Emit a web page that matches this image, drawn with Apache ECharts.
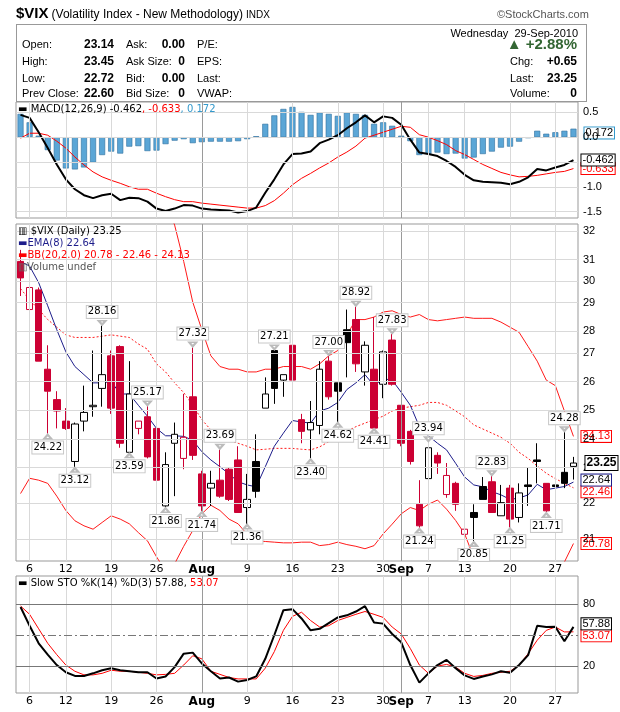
<!DOCTYPE html>
<html><head><meta charset="utf-8">
<script src="https://cdn.jsdelivr.net/npm/echarts@6/dist/echarts.min.js"></script>
<style>
body{margin:0;background:#fff;font-family:"Liberation Sans",Arial,sans-serif;}
#wrap{position:relative;width:620px;height:712px;}
#chart{position:absolute;left:0;top:0;width:620px;height:712px;}
.t{position:absolute;white-space:nowrap;font-size:11px;line-height:14px;color:#000;}
.b{font-weight:bold;font-size:12px;}
.r{text-align:right;}
</style></head><body>
<div id="wrap">
<div id="chart"></div>
<div class="t" style="left:16px;top:4px;line-height:18px;"><span style="font-weight:bold;font-size:15px;">$VIX</span> <span style="font-size:12px;">(Volatility Index - New Methodology)</span> <span style="font-size:10px;">INDX</span></div>
<div class="t" style="left:497px;top:7px;color:#555;font-size:11px;">&#169;StockCharts.com</div>
<div style="position:absolute;left:16px;top:24px;width:569px;height:76px;border:1px solid #999;"></div>
<div class="t r" style="right:42px;top:26px;">Wednesday&nbsp; 29-Sep-2010</div>
<div class="t" style="left:22px;top:37px;">Open:</div><div class="t b r" style="right:506px;top:37px;">23.14</div>
<div class="t" style="left:22px;top:54px;">High:</div><div class="t b r" style="right:506px;top:54px;">23.45</div>
<div class="t" style="left:22px;top:71px;">Low:</div><div class="t b r" style="right:506px;top:71px;">22.72</div>
<div class="t" style="left:22px;top:86px;">Prev Close:</div><div class="t b r" style="right:506px;top:86px;">22.60</div>
<div class="t" style="left:126px;top:37px;">Ask:</div><div class="t b r" style="right:435px;top:37px;">0.00</div>
<div class="t" style="left:126px;top:54px;">Ask Size:</div><div class="t b r" style="right:435px;top:54px;">0</div>
<div class="t" style="left:126px;top:71px;">Bid:</div><div class="t b r" style="right:435px;top:71px;">0.00</div>
<div class="t" style="left:126px;top:86px;">Bid Size:</div><div class="t b r" style="right:435px;top:86px;">0</div>
<div class="t" style="left:197px;top:37px;">P/E:</div>
<div class="t" style="left:197px;top:54px;">EPS:</div>
<div class="t" style="left:197px;top:71px;">Last:</div>
<div class="t" style="left:197px;top:86px;">VWAP:</div>
<div class="t r" style="right:43px;top:36px;color:#336633;font-weight:bold;font-size:15px;line-height:16px;">&#9650; +2.88%</div>
<div class="t" style="left:510px;top:54px;">Chg:</div><div class="t b r" style="right:43px;top:54px;">+0.65</div>
<div class="t" style="left:510px;top:71px;">Last:</div><div class="t b r" style="right:43px;top:71px;">23.25</div>
<div class="t" style="left:510px;top:86px;">Volume:</div><div class="t b r" style="right:43px;top:86px;">0</div>
</div>
<script>
const dates=['07-02','07-06','07-07','07-08','07-09','07-12','07-13','07-14','07-15','07-16','07-19','07-20','07-21','07-22','07-23','07-26','07-27','07-28','07-29','07-30',
'08-02','08-03','08-04','08-05','08-06','08-09','08-10','08-11','08-12','08-13','08-16','08-17','08-18','08-19','08-20','08-23','08-24','08-25','08-26','08-27','08-30','08-31',
'09-01','09-02','09-03','09-07','09-08','09-09','09-10','09-13','09-14','09-15','09-16','09-17','09-20','09-21','09-22','09-23','09-24','09-27','09-28','09-29'];
const tickDates=['07-06','07-12','07-19','07-26','08-02','08-09','08-16','08-23','08-30','09-01','09-07','09-13','09-20','09-27'];
const tickText=['6','12','19','26','Aug','9','16','23','30','Sep','7','13','20','27'];
const opens=[30.8,28.8,29.6,26.5,25.4,24.65,23.3,24.65,25.15,25.8,27.0,27.35,23.6,24.4,24.8,24.4,21.9,23.9,23.4,25.5,22.9,22.45,22.7,23.05,23.35,21.85,23.3,25.1,27.2,26.1,27.4,24.7,24.35,24.5,26.8,26.0,28.0,28.4,26.4,26.5,25.95,27.6,25.2,24.3,21.95,22.75,23.5,22.25,22.6,21.05,21.7,22.5,22.65,21.6,22.45,21.55,22.55,23.35,22.6,22.55,22.95,23.14];
const highs=[31.3,30.5,29.7,27.4,25.7,25.1,24.6,25.9,27.2,28.16,27.2,27.4,26.8,24.65,25.17,24.5,23.6,24.6,25.6,27.32,23.0,23.0,23.69,23.1,23.8,22.9,24.2,26.2,27.21,26.3,28.0,24.9,25.35,26.8,27.0,26.0,28.8,28.92,27.55,28.5,27.2,27.83,25.2,24.35,22.7,23.94,23.6,23.25,22.65,21.95,21.95,22.8,22.83,22.55,22.55,22.6,23.1,23.9,22.6,22.75,24.28,23.45];
const lows=[29.35,27.9,26.8,24.22,24.4,24.35,23.12,24.3,24.8,25.15,24.9,23.75,23.59,24.2,23.4,22.6,21.86,22.2,23.05,23.35,21.74,21.9,22.15,22.05,21.7,21.36,22.15,25.1,25.25,25.5,25.4,23.9,23.4,24.2,25.4,24.62,26.2,26.4,25.9,24.41,25.45,25.9,23.8,23.2,21.24,22.75,22.9,22.15,21.75,20.95,20.85,22.1,21.7,21.6,21.25,21.4,21.9,22.6,21.71,21.95,22.45,22.72];
const closes=[30.1,29.7,26.8,25.7,25.0,24.4,24.55,24.95,25.2,26.3,25.1,23.9,25.6,24.65,23.45,22.7,23.2,24.2,24.1,23.5,21.9,22.6,22.2,22.1,21.7,22.1,22.35,25.6,25.8,26.3,26.1,24.3,24.6,26.5,25.5,25.7,27.5,26.7,27.4,24.41,27.15,25.95,23.9,23.3,21.3,23.75,23.25,22.85,21.95,21.2,21.55,22.1,21.7,22.0,21.5,22.3,22.5,23.3,21.75,22.5,22.6,23.25];
const ema8=[30.8,30.6,29.9,28.95,28.0,27.15,26.6,26.3,26.0,26.0,26.05,25.6,25.6,25.2,24.82,24.4,24.15,24.15,24.13,24.0,23.62,23.35,23.13,22.9,22.65,22.55,22.49,23.13,23.8,24.24,24.67,24.62,24.58,25.0,25.1,25.3,25.76,26.0,26.3,25.9,26.15,26.1,25.66,25.2,24.46,24.15,23.9,23.68,23.24,22.8,22.55,22.49,22.34,22.24,22.1,22.14,22.24,22.57,22.4,22.45,22.5,22.64];
const bbUpper=[38,38.5,39,39.5,39.5,39,38.5,38,37.5,37,36.5,36,35.5,35,34.5,34,33.5,32.4,30.8,29.1,28.0,27.0,26.6,26.5,26.5,26.4,26.4,26.5,26.5,26.6,26.6,26.6,26.5,26.7,27.0,27.2,27.8,28.4,28.4,28.5,28.7,28.75,28.6,28.5,28.6,28.4,28.35,28.4,28.45,28.5,28.45,28.45,28.45,28.3,28.1,27.9,27.35,26.8,26.1,25.9,25.0,24.13];
const bbMid=[29.65,29.2,28.8,28.4,28.1,27.8,27.7,27.7,27.7,27.75,27.8,27.75,27.7,27.45,27.25,26.7,26.4,26.0,25.65,25.2,24.7,24.35,24.13,24.0,23.9,23.8,23.68,23.7,23.73,23.73,23.73,23.7,23.68,23.78,23.95,24.08,24.3,24.46,24.58,24.7,24.82,25.0,25.1,25.15,25.2,25.3,25.3,25.2,25.0,24.8,24.52,24.38,24.24,24.1,23.9,23.6,23.4,23.15,22.92,22.75,22.6,22.46];
const bbLower=[22.28,22.76,22.7,22.6,22.2,21.76,21.45,21.3,21.2,21.4,21.6,21.5,21.36,21.1,20.86,20.4,20.0,20.2,20.7,21.16,21.66,21.92,21.76,21.5,21.36,21.05,20.86,20.84,20.82,20.8,20.8,20.82,20.82,20.72,20.75,20.82,20.75,20.7,20.63,20.72,21.06,21.35,21.66,21.85,21.76,21.95,22.08,21.8,21.46,21.06,20.38,19.95,19.5,19.2,19.0,19.0,19.1,19.3,19.5,19.8,20.25,20.78];
const macd=[0.45,0.39,0.1,-0.22,-0.55,-0.85,-1.05,-1.17,-1.23,-1.17,-1.14,-1.27,-1.22,-1.23,-1.30,-1.44,-1.49,-1.44,-1.37,-1.38,-1.44,-1.46,-1.47,-1.48,-1.52,-1.49,-1.42,-1.12,-0.85,-0.55,-0.34,-0.33,-0.29,-0.12,-0.05,0.04,0.18,0.30,0.44,0.30,0.42,0.39,0.25,-0.05,-0.31,-0.34,-0.38,-0.48,-0.60,-0.76,-0.87,-0.90,-0.91,-0.92,-0.95,-0.90,-0.81,-0.64,-0.67,-0.61,-0.56,-0.462];
const signal=[-0.02,0.08,0.08,0.04,-0.08,-0.22,-0.40,-0.56,-0.70,-0.80,-0.87,-0.93,-1.0,-1.05,-1.05,-1.13,-1.2,-1.26,-1.3,-1.3,-1.33,-1.35,-1.37,-1.39,-1.41,-1.43,-1.43,-1.38,-1.28,-1.13,-0.96,-0.83,-0.73,-0.62,-0.52,-0.40,-0.30,-0.18,-0.02,0.04,0.10,0.16,0.22,0.20,0.05,0.0,-0.07,-0.15,-0.27,-0.35,-0.45,-0.55,-0.63,-0.71,-0.76,-0.80,-0.79,-0.77,-0.74,-0.71,-0.69,-0.633];
const hist=[0.47,0.30,0.03,-0.26,-0.47,-0.63,-0.65,-0.61,-0.51,-0.36,-0.29,-0.33,-0.19,-0.18,-0.28,-0.27,-0.14,-0.07,-0.04,-0.12,-0.10,-0.09,-0.09,-0.09,-0.08,-0.04,0.02,0.27,0.44,0.57,0.61,0.51,0.45,0.50,0.47,0.43,0.50,0.47,0.45,0.27,0.30,0.23,0.03,-0.08,-0.36,-0.34,-0.31,-0.34,-0.33,-0.43,-0.41,-0.34,-0.29,-0.21,-0.19,-0.09,-0.02,0.13,0.07,0.10,0.13,0.172];
const stoK=[77,59,42,31,21,14,10.5,10.5,13,16,18,16,15,14,14,8,10,19,32,33,22.6,15,8,9,5,6.6,10,27,50,74,75,66,54.5,56,61.5,67,69,72.7,77.8,62,61,51,43,21,4,13,21,26,18,11,7.6,10,12,15,13.6,21,30.6,59,57.7,58,44,57.88];
const stoD=[78,70,56,42,31,21,15,11.5,11.5,13,16,15,15,14,13,11.5,12,13,21,30,27,15,12,9,7.6,7.6,7.6,18,34,54.5,68,72,64,57.7,59,64,67,70,72.7,70,67,57.7,51,37,21,13,20,21.6,19,13,10,11,13,14,15,21,32,45,54.5,57.7,53,53.07];
const priceTicks=[21,22,23,24,25,26,27,28,29,30,31,32];
const macdTicks=[0.5,0.0,-1.0,-1.5];
const peakIdx=[9,14,19,22,28,34,37,41,45,52,60];
const troughIdx=[3,6,12,16,20,25,32,35,39,44,50,54,58];

const ln=Math.log;
const RED='#cc0033', BRED='#ff1a1a', NAVY='#1c1c8a';
const N=dates.length;
const tickSet=new Set(tickDates);
const blank=dates.map(()=> '-');
const font='DejaVu Sans';
const tfont='Liberation Sans';

function vLines(){
  return tickDates.map(d=>({xAxis:d,lineStyle:{color:(d==='08-02'||d==='09-01')?'#9a9a9a':'#d9d9d9',width:1,type:'solid'},label:{show:false}}));
}
function hLines(vals,fmt){
  return vals.map(v=>({yAxis:fmt.y(v),lineStyle:{color:'#d9d9d9',width:1,type:'solid'},label:{show:true,position:'end',formatter:fmt.t(v),color:'#000',fontSize:11,fontFamily:tfont,distance:5}}));
}

const candles=dates.map((d,i)=>{
  const up=closes[i]>=opens[i];
  const col=(i>0&&closes[i]>=closes[i-1])?'#000':RED;
  return {value:[ln(opens[i]),ln(closes[i]),ln(lows[i]),ln(highs[i])],
    itemStyle:{color:up?'#fff':col,color0:col,borderColor:col,borderColor0:col,borderWidth:1}};
});
const boxLabel={show:true,color:'#000',fontSize:10,fontFamily:font,backgroundColor:'#fff',borderColor:'#c8c8c8',borderWidth:1,padding:[1,1]};
const markPts=[];
peakIdx.forEach(i=>markPts.push({coord:[dates[i],ln(highs[i])],symbol:'triangle',symbolSize:[7,4],symbolRotate:180,symbolOffset:[0,-3],itemStyle:{color:'#fff',borderColor:'#bbb'},label:Object.assign({},boxLabel,{position:'top',distance:2,formatter:highs[i].toFixed(2)})}));
troughIdx.forEach(i=>markPts.push({coord:[dates[i],ln(lows[i])],symbol:'triangle',symbolSize:[7,4],symbolOffset:[0,3],itemStyle:{color:'#fff',borderColor:'#bbb'},label:Object.assign({},boxLabel,{position:'bottom',distance:2,formatter:lows[i].toFixed(2)})}));
markPts.push({coord:[dates[N-1],ln(closes[N-1])],symbolSize:0,label:{show:true,position:'right',offset:[7,0],formatter:closes[N-1].toFixed(2),color:'#000',fontWeight:'bold',fontSize:12,fontFamily:tfont,backgroundColor:'#fff',borderColor:'#000',borderWidth:1,padding:[1,1]}});

function tag(color,txt){return {show:true,formatter:txt,color:color,fontSize:11,fontFamily:tfont,backgroundColor:'#fff',borderColor:color,borderWidth:1,padding:[0,1],distance:8};}

const xBase=(gi,labels)=>({type:'category',gridIndex:gi,data:dates,boundaryGap:true,
  axisLine:{show:false},axisTick:{show:false},splitLine:{show:false},
  axisLabel:{show:labels,interval:(i,v)=>tickSet.has(v),margin:3,fontSize:11,fontFamily:font,color:'#000',
    formatter:v=>{const t=tickText[tickDates.indexOf(v)];return (t==='Aug'||t==='Sep')?'{b|'+t+'}':t;},
    rich:{b:{fontWeight:'bold',fontSize:12,fontFamily:font}}}});
const yBase=(gi,min,max)=>({type:'value',gridIndex:gi,min,max,position:'right',axisLine:{show:false},axisTick:{show:false},axisLabel:{show:false},splitLine:{show:false}});

const chart=echarts.init(document.getElementById('chart'),null,{renderer:'canvas'});
chart.setOption({
  animation:false,
  grid:[{left:16,right:42,top:102,height:116,show:true,borderColor:'#999'},
        {left:16,right:42,top:224,height:337,show:true,borderColor:'#999'},
        {left:16,right:42,top:576,height:117,show:true,borderColor:'#999'}],
  xAxis:[xBase(0,false),xBase(1,true),xBase(2,true)],
  yAxis:[yBase(0,-1.63,0.71),yBase(1,ln(20.28),ln(32.45)),yBase(2,-6,107)],
  graphic:[
    {type:'text',left:18,top:104,z:100,style:{text:'▬ MACD(12,26,9) -0.462{r|, -0.633}{bl|, 0.172}',font:'10px DejaVu Sans',fill:'#000',rich:{r:{fill:'#ff0000',fontSize:10,fontFamily:font},bl:{fill:'#3399cc',fontSize:10,fontFamily:font}}}},
    {type:'text',left:18,top:226,z:100,style:{text:'▥ $VIX (Daily) 23.25',font:'10px DejaVu Sans',fill:'#000'}},
    {type:'text',left:18,top:238,z:100,style:{text:'{n|▬EMA(8) 22.64}',font:'10px DejaVu Sans',rich:{n:{fill:NAVY,fontSize:10,fontFamily:font}}}},
    {type:'text',left:18,top:250,z:100,style:{text:'{r|▬BB(20,2.0) 20.78 - 22.46 - 24.13}',font:'10px DejaVu Sans',rich:{r:{fill:'#ff0000',fontSize:10,fontFamily:font}}}},
    {type:'text',left:18,top:262,z:100,style:{text:'{g|▥}Volume undef',font:'10px DejaVu Sans',fill:'#555',rich:{g:{fill:'#666',fontSize:10}}}},
    {type:'text',left:18,top:578,z:100,style:{text:'▬ Slow STO %K(14) %D(3) 57.88, {r|53.07}',font:'10px DejaVu Sans',fill:'#000',rich:{r:{fill:'#ff0000',fontSize:10,fontFamily:font}}}}
  ],
  series:[
    {type:'line',xAxisIndex:0,yAxisIndex:0,data:blank,z:0,silent:true,
     markLine:{silent:true,symbol:'none',animation:false,data:vLines().concat(hLines(macdTicks,{y:v=>v,t:v=>v.toFixed(1)}),[{yAxis:-0.5,lineStyle:{color:'#d9d9d9',width:1,type:'solid'},label:{show:false}}])}},
    {type:'bar',xAxisIndex:0,yAxisIndex:0,data:hist.map((v,i)=>i===N-1?{value:v,label:Object.assign(tag('#3399cc','0.172'),{position:'right',color:'#000',distance:8})}:v),
     barWidth:6,itemStyle:{color:'#5ba6d6',borderColor:'#2d6e9e',borderWidth:0.6},z:2},
    {type:'line',xAxisIndex:0,yAxisIndex:0,data:signal,symbol:'none',lineStyle:{color:'#ff0000',width:1},z:3,endLabel:tag('#ff0000','-0.633')},
    {type:'line',xAxisIndex:0,yAxisIndex:0,data:macd,symbol:'none',lineStyle:{color:'#000',width:2},z:4,endLabel:tag('#000','-0.462')},

    {type:'line',xAxisIndex:1,yAxisIndex:1,data:blank,z:0,silent:true,
     markLine:{silent:true,symbol:'none',animation:false,data:vLines().concat(hLines(priceTicks,{y:v=>ln(v),t:v=>String(v)}))}},
    {type:'line',xAxisIndex:1,yAxisIndex:1,data:bbUpper.map(ln),symbol:'none',lineStyle:{color:BRED,width:1},z:2,endLabel:tag('#ff0000','24.13')},
    {type:'line',xAxisIndex:1,yAxisIndex:1,data:bbMid.map(ln),symbol:'none',lineStyle:{color:BRED,width:1,type:[2,2]},z:2,endLabel:Object.assign(tag('#ff0000','22.46'),{offset:[0,4]})},
    {type:'line',xAxisIndex:1,yAxisIndex:1,data:bbLower.map(ln),symbol:'none',lineStyle:{color:BRED,width:1},z:2,endLabel:tag('#ff0000','20.78')},
    {type:'line',xAxisIndex:1,yAxisIndex:1,data:ema8.map(ln),symbol:'none',lineStyle:{color:NAVY,width:1},z:3,endLabel:Object.assign(tag(NAVY,'22.64'),{color:'#000',offset:[0,-2]})},
    {type:'candlestick',xAxisIndex:1,yAxisIndex:1,data:candles,barWidth:7,z:4,markPoint:{silent:true,animation:false,data:markPts}},

    {type:'line',xAxisIndex:2,yAxisIndex:2,data:blank,z:0,silent:true,
     markLine:{silent:true,symbol:'none',animation:false,data:vLines().concat(
       [{yAxis:80,lineStyle:{color:'#777',width:1,type:'solid'},label:{show:true,position:'end',formatter:'80',fontSize:11,fontFamily:tfont,color:'#000',distance:5}},
        {yAxis:20,lineStyle:{color:'#777',width:1,type:'solid'},label:{show:true,position:'end',formatter:'20',fontSize:11,fontFamily:tfont,color:'#000',distance:5}},
        {yAxis:50,lineStyle:{color:'#777',width:1,type:[8,3,2,3]},label:{show:false}}])}},
    {type:'line',xAxisIndex:2,yAxisIndex:2,data:stoD,symbol:'none',lineStyle:{color:'#ff0000',width:1},z:3,endLabel:Object.assign(tag('#ff0000','53.07'),{offset:[0,4]})},
    {type:'line',xAxisIndex:2,yAxisIndex:2,data:stoK,symbol:'none',lineStyle:{color:'#000',width:2},z:4,endLabel:Object.assign(tag('#000','57.88'),{offset:[0,-3]})}
  ]
});
</script>
</body></html>
